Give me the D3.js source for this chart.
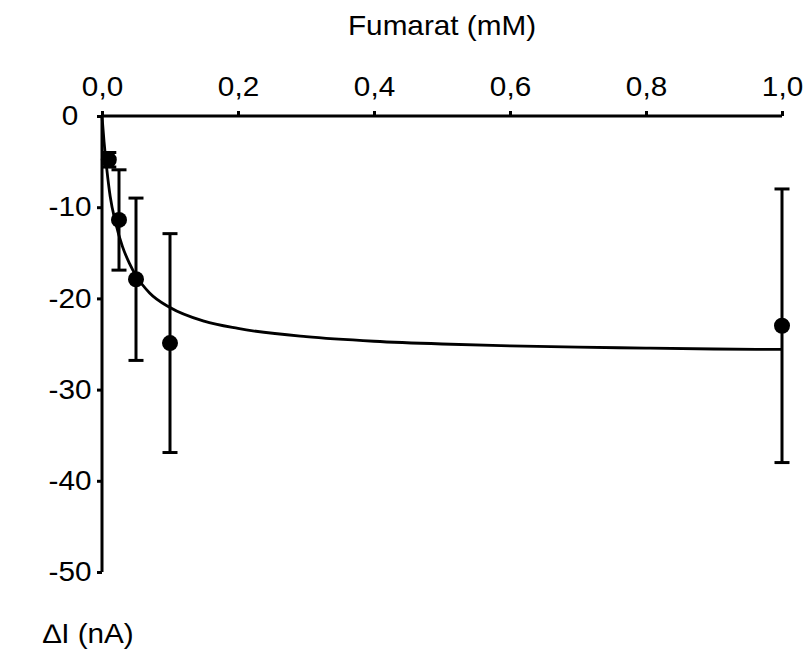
<!DOCTYPE html>
<html>
<head>
<meta charset="utf-8">
<script src="https://cdn.jsdelivr.net/npm/d3@7"></script>
<style>
  body { margin: 0; background: #fff; }
  svg text { font-family: "Liberation Sans", Arial, sans-serif; fill: #000; }
</style>
</head>
<body>
<div id="chart"></div>
<script>
const fig_width = 809;
const fig_height = 653;

// measured points (concentration in mM, current in nA, error bar half-size)
const conc = [0.01, 0.025, 0.05, 0.1, 1.0];
const current = [-4.8, -11.4, -17.9, -24.9, -23];
const current_err = [0.8, 5.5, 8.9, 12, 15];

// fitted curve
const fit_x = [0, 0.003, 0.007, 0.012, 0.02, 0.03, 0.04, 0.05, 0.07, 0.1, 0.15, 0.2, 0.3, 0.4, 0.5, 0.6, 0.7, 0.8, 0.9, 1.0];
const fit_y = [0, -2.8, -5.8, -8.8, -11.7, -14.3, -16.1, -17.5, -19.4, -21.0, -22.5, -23.3, -24.2, -24.7, -25.0, -25.2, -25.35, -25.45, -25.55, -25.6];

const x_ticks = [0, 0.2, 0.4, 0.6, 0.8, 1.0];
const y_ticks = [0, -10, -20, -30, -40, -50];

const x_title = 'Fumarat (mM)';
const y_title = '\u2206I (nA)';

const font_size = 27;
const stretch = 1.1;   // text in the picture is drawn a bit wide

const svg = d3.select('#chart')
              .append('svg')
              .attr('width', fig_width)
              .attr('height', fig_height);

const xScale = d3.scaleLinear()
                 .domain([0, 1])
                 .range([102, 782]);
const yScale = d3.scaleLinear()
                 .domain([0, -50])
                 .range([116, 572]);

// top x axis
const xAxis = d3.axisTop(xScale)
                .tickValues(x_ticks)
                .tickSize(5)
                .tickPadding(15)
                .tickFormat(function(d){ return d.toFixed(1).replace('.', ','); });
const gx = svg.append('g')
              .attr('transform', 'translate(0,' + yScale(0) + ')')
              .call(xAxis);

// left y axis
const yAxis = d3.axisLeft(yScale)
                .tickValues(y_ticks)
                .tickSize(5)
                .tickFormat(function(d){ return String(d); });
const gy = svg.append('g')
              .attr('transform', 'translate(' + xScale(0) + ',0)')
              .call(yAxis);

[gx, gy].forEach(function(g){
    g.select('.domain').attr('stroke', '#000').attr('stroke-width', 3);
    g.selectAll('.tick line').attr('stroke', '#000').attr('stroke-width', 3);
    g.selectAll('.tick text')
     .attr('font-size', font_size)
     .attr('font-family', '"Liberation Sans", Arial, sans-serif')
     .attr('transform', 'scale(' + stretch + ',1)');
});
gy.selectAll('.tick text')
  .attr('text-anchor', 'middle')
  .attr('x', -32 / stretch);
gx.select('.domain').attr('d', 'M' + xScale(0) + ',0H' + xScale(1));
gy.select('.domain').attr('d', 'M0,' + yScale(0) + 'V' + yScale(-50));

// fitted curve
const fit_data = fit_x.map(function(x, i){ return {x: x, y: fit_y[i]}; });
const line = d3.line()
               .x(function(d){ return xScale(d.x); })
               .y(function(d){ return yScale(d.y); })
               .curve(d3.curveMonotoneX);
svg.append('path')
   .datum(fit_data)
   .attr('d', line)
   .attr('fill', 'none')
   .attr('stroke', '#000')
   .attr('stroke-width', 2.8);

// error bars and points
const dataset = conc.map(function(c, i){
    return {x: c, y: current[i], e: current_err[i]};
});
const cap = 7.5;
const err = svg.append('g')
               .selectAll('.err')
               .data(dataset)
               .enter()
               .append('g')
               .attr('class', 'err')
               .attr('stroke', '#000')
               .attr('stroke-width', 3);
err.append('line')
   .attr('x1', function(d){ return xScale(d.x); })
   .attr('x2', function(d){ return xScale(d.x); })
   .attr('y1', function(d){ return yScale(d.y + d.e); })
   .attr('y2', function(d){ return yScale(d.y - d.e); });
err.append('line')
   .attr('x1', function(d){ return xScale(d.x) - cap; })
   .attr('x2', function(d){ return xScale(d.x) + cap; })
   .attr('y1', function(d){ return yScale(d.y + d.e); })
   .attr('y2', function(d){ return yScale(d.y + d.e); });
err.append('line')
   .attr('x1', function(d){ return xScale(d.x) - cap; })
   .attr('x2', function(d){ return xScale(d.x) + cap; })
   .attr('y1', function(d){ return yScale(d.y - d.e); })
   .attr('y2', function(d){ return yScale(d.y - d.e); });

svg.append('g')
   .selectAll('.pt')
   .data(dataset)
   .enter()
   .append('circle')
   .attr('class', 'pt')
   .attr('r', 8)
   .attr('fill', '#000')
   .attr('cx', function(d){ return xScale(d.x); })
   .attr('cy', function(d){ return yScale(d.y); });

// titles
svg.append('g')
   .attr('transform', 'translate(' + ((xScale(0) + xScale(1)) / 2) + ',35)')
   .append('text')
   .attr('text-anchor', 'middle')
   .attr('font-size', font_size)
   .attr('transform', 'scale(' + stretch + ',1)')
   .text(x_title);

svg.append('g')
   .attr('transform', 'translate(43,643)')
   .append('text')
   .attr('font-size', font_size)
   .attr('transform', 'scale(' + stretch + ',1)')
   .text(y_title);
</script>
</body>
</html>
